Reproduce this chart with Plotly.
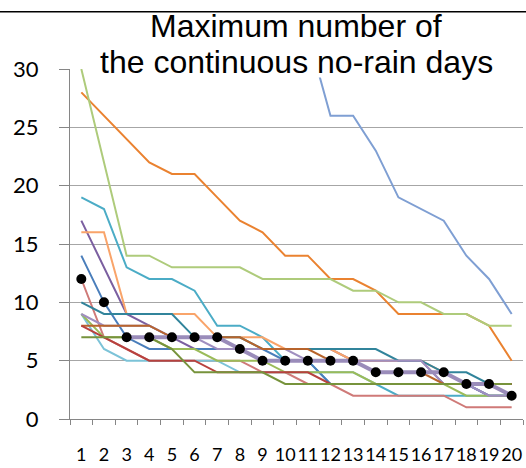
import plotly.graph_objects as go

days = [str(i) for i in range(1, 21)]

# series values (None = above the visible range / hidden)
s_top_blue   = [None]*10 + [33, 26, 26, 23, 19, 18, 17, 14, 12, 9]
s_orange     = [28, 26, 24, 22, 21, 21, 19, 17, 16, 14, 14, 12, 12, 11, 9, 9, 9, 9, 8, 5]
s_lgreen     = [30, 22, 14, 14, 13, 13, 13, 13, 12, 12, 12, 12, 11, 11, 10, 10, 9, 9, 8, 8]
s_aqua       = [19, 18, 13, 12, 12, 11, 8, 8, 7, 5, 5, 3, 3, 3, 2, 2, 2, 2, 2, 2]
s_purple     = [17, 13, 9, 8, 7, 6, 6, 6, 6, 6, 6, 6, 5, 5, 5, 5, 3, 3, 2, 2]
s_lorange    = [16, 16, 9, 9, 9, 9, 7, 7, 7, 6, 6, 6, 5, 5, 5, 5, 4, 3, 3, 2]
s_blue       = [14, 10, 7, 6, 6, 6, 6, 6, 6, 5, 5, 3, 3, 3, 3, 3, 3, 3, 2, 2]
s_pink       = [12, 7, 6, 5, 5, 5, 5, 5, 4, 4, 3, 3, 2, 2, 2, 2, 2, 1, 1, 1]
s_dteal      = [10, 9, 9, 9, 9, 7, 7, 7, 6, 6, 6, 6, 6, 6, 5, 5, 4, 4, 3, 3]
s_lblue      = [9, 6, 5, 5, 5, 5, 5, 4, 4, 4, 4, 4, 4, 3, 3, 3, 3, 3, 3, 2]
s_green      = [9, 7, 7, 7, 6, 6, 5, 5, 5, 4, 4, 4, 4, 3, 3, 3, 3, 2, 2, 2]
s_lpurple    = [9, 8, 8, 8, 7, 7, 6, 6, 6, 6, 5, 5, 5, 5, 5, 5, 3, 3, 2, 2]
s_brown      = [8, 8, 8, 8, 7, 7, 7, 7, 6, 6, 6, 5, 5, 4, 4, 4, 3, 3, 3, 3]
s_dred       = [8, 7, 6, 5, 5, 5, 4, 4, 4, 4, 4, 3, 3, 3, 3, 3, 3, 3, 3, 3]
s_olive      = [7, 7, 7, 7, 6, 4, 4, 4, 4, 3, 3, 3, 3, 3, 3, 3, 3, 3, 3, 3]
s_median     = [12, 10, 7, 7, 7, 7, 7, 6, 5, 5, 5, 5, 5, 4, 4, 4, 4, 3, 3, 2]

series = [
    (s_top_blue, "#7F9FD3"), (s_orange, "#EA8230"), (s_lgreen, "#AECB7B"),
    (s_aqua, "#4BACC6"), (s_purple, "#7B5FA0"), (s_lorange, "#F9A46A"),
    (s_blue, "#4A7EBB"), (s_pink, "#CF7A78"), (s_dteal, "#31849B"),
    (s_lblue, "#7CC3D8"), (s_green, "#9BBB59"), (s_lpurple, "#A08FC0"),
    (s_brown, "#B8642C"), (s_dred, "#B8413E"), (s_olive, "#77933C"),
]

fig = go.Figure()
for vals, col in series:
    fig.add_trace(go.Scatter(x=days, y=vals, mode="lines",
                             line=dict(color=col, width=2), showlegend=False))

fig.add_trace(go.Scatter(x=days[2:], y=s_median[2:], mode="lines",
                         line=dict(color="#9A8CBA", width=4), showlegend=False))
fig.add_trace(go.Scatter(x=days, y=s_median, mode="markers",
                         marker=dict(color="black", size=10), showlegend=False))

L, T = 70, 68.5
PW, PH = 453.3, 351.0

def px(xp):
    return (xp - L) / PW

def py(yp):
    return (T + PH - yp) / PH

fig.update_layout(
    width=526, height=468,
    margin=dict(l=L, r=526 - L - PW, t=T, b=468 - T - PH, pad=0),
    paper_bgcolor="white", plot_bgcolor="white",
    xaxis=dict(type="category", range=[-0.5, 19.5], tickson="boundaries",
               ticks="outside", ticklen=5, tickcolor="#868686", tickangle=0,
               showline=True, linecolor="#868686", linewidth=1,
               showgrid=False, tickfont=dict(family="Lato", size=18, color="black"),
               ticklabelstandoff=19),
    yaxis=dict(range=[0, 30], dtick=5, ticks="outside", ticklen=10,
               tickcolor="#868686", showline=True, linecolor="#868686",
               gridcolor="#A6A6A6", gridwidth=1, zeroline=False,
               tickfont=dict(family="Lato", size=22, color="black"),
               ticklabelstandoff=16),
    shapes=[
        dict(type="rect", xref="paper", yref="paper", x0=px(88), x1=px(530),
             y0=py(77), y1=py(12), fillcolor="white", line=dict(width=0), layer="above"),
        dict(type="line", xref="paper", yref="paper", x0=px(-2), x1=px(530),
             y0=py(11), y1=py(11), line=dict(color="black", width=1.5), layer="above"),
    ],
    annotations=[
        dict(text="Maximum number of", xref="paper", yref="paper", x=px(296), y=py(25),
             xanchor="center", yanchor="middle", showarrow=False,
             font=dict(family="Liberation Sans", size=32, color="black")),
        dict(text="the continuous no-rain days", xref="paper", yref="paper", x=px(297), y=py(61.5),
             xanchor="center", yanchor="middle", showarrow=False,
             font=dict(family="Liberation Sans", size=32, color="black")),
    ],
)

fig.write_html("out.html")
